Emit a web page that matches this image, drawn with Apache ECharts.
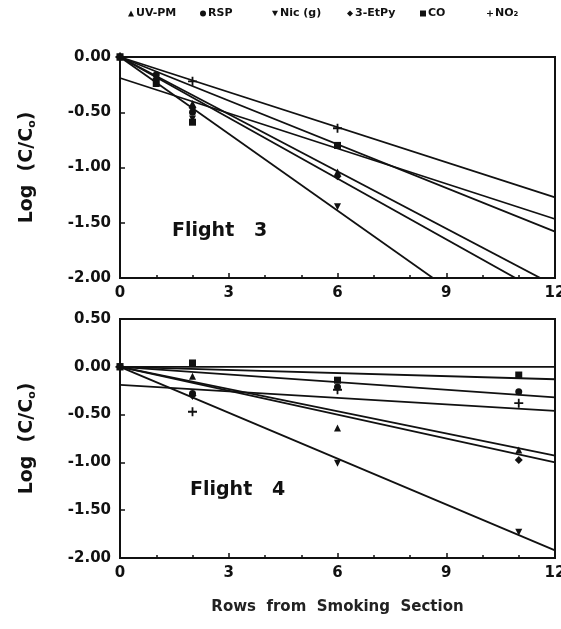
<!DOCTYPE html>
<html>
<head>
<meta charset="utf-8">
<script src="https://cdn.jsdelivr.net/npm/echarts@6/dist/echarts.min.js"></script>
<style>
  html, body { margin: 0; padding: 0; background: #fff; }
  #chart { width: 561px; height: 629px; }
</style>
</head>
<body>
<div id="chart"></div>
<script>
// species, in legend order
var speciesNames = ['UV-PM', 'RSP', 'Nic (g)', '3-EtPy', 'CO', 'NO\u2082'];
var xTickLabels = [0, 3, 6, 9, 12];

// Flight 3 measured points (rows from smoking section)
var flight3Rows = [0, 1, 2, 6];
var f3UvPm = [0, -0.18, -0.42, -1.04];
var f3Rsp = [0, -0.16, -0.50, -0.80];
var f3Nic = [0, -0.22, -0.56, -1.355];
var f3EtPy = [0, -0.20, -0.46, -1.08];
var f3Co = [0, -0.24, -0.59, -0.80];
var f3No2 = [0, null, -0.22, -0.645];

// Flight 4 measured points
var flight4Rows = [0, 2, 6, 11];
var f4UvPm = [0, -0.10, -0.64, -0.87];
var f4Rsp = [0, -0.28, -0.21, -0.26];
var f4Nic = [0, -0.31, -1.01, -1.73];
var f4EtPy = [0, -0.30, null, -0.975];
var f4Co = [0, 0.04, -0.14, -0.086];
var f4No2 = [0, -0.47, -0.24, -0.38];

// fitted lines: value at row 0 and at row 12 (same order as speciesNames)
var fitRows = [0, 12];
var f3FitStart = [0, 0, 0, 0, -0.19, 0];
var f3FitEnd = [-2.07, -1.58, -2.78, -2.20, -1.466, -1.27];
var f4FitStart = [0, 0, 0, 0, 0, -0.19];
var f4FitEnd = [-0.93, -0.32, -1.92, -1.00, -0.13, -0.46];

var plusPath = 'path://M4,0H6V4H10V6H6V10H4V6H0V4H4Z';
var downTri = 'path://M0,0L10,0L5,9Z';
var symbols = ['triangle', 'circle', downTri, 'diamond', 'rect', plusPath];
var symbolSizes = [7, 7, 7, 8, 7, 9];
var legendLeft = [128, 200, 272, 347, 420, 487];

var font = 'DejaVu Sans';
var ink = '#111';

function pairs(rows, vals) {
  return rows.map(function (r, i) { return [r, vals[i]]; });
}

var f3Sets = [f3UvPm, f3Rsp, f3Nic, f3EtPy, f3Co, f3No2];
var f4Sets = [f4UvPm, f4Rsp, f4Nic, f4EtPy, f4Co, f4No2];

function xAxisFor(idx, withName) {
  var ax = {
    type: 'value', gridIndex: idx, min: 0, max: 12, interval: 3,
    axisLine: { onZero: false, lineStyle: { color: ink, width: 2 } },
    axisTick: { inside: true, length: 5, lineStyle: { color: ink, width: 1.5 } },
    minorTick: { show: true, splitNumber: 3, length: 3, lineStyle: { color: ink, width: 1.5 } },
    splitLine: { show: false },
    axisLabel: { color: ink, fontFamily: font, fontWeight: 'bold', fontSize: 15, margin: 8 }
  };
  if (withName) {
    ax.name = 'Rows  from  Smoking  Section';
    ax.nameLocation = 'middle';
    ax.nameGap = 42;
    ax.nameTextStyle = { color: '#222', fontFamily: font, fontWeight: 'bold', fontSize: 15 };
  }
  return ax;
}

function yAxisFor(idx, max) {
  return {
    type: 'value', gridIndex: idx, min: -2, max: max, interval: 0.5,
    axisLine: { show: true, onZero: false, lineStyle: { color: ink, width: 2 } },
    axisTick: { show: true, inside: true, length: 5, lineStyle: { color: ink, width: 1.5 } },
    splitLine: { show: false },
    axisLabel: {
      color: ink, fontFamily: font, fontWeight: 'bold', fontSize: 15, margin: 9,
      formatter: function (v) { return v.toFixed(2); }
    },
    name: '{a|Log  (C/C}{s|o}{a|)}',
    nameLocation: 'middle',
    nameGap: 82,
    nameTextStyle: {
      rich: {
        a: { color: ink, fontFamily: font, fontWeight: 'bold', fontSize: 19 },
        s: { color: ink, fontFamily: font, fontWeight: 'bold', fontSize: 11, padding: [11, 0, 0, 0] }
      }
    }
  };
}

var series = [];
function addPanel(idx, rows, sets, fitStart, fitEnd) {
  speciesNames.forEach(function (name, i) {
    series.push({
      name: 'fit ' + idx + ' ' + name,
      type: 'line', xAxisIndex: idx, yAxisIndex: idx,
      data: [[fitRows[0], fitStart[i]], [fitRows[1], fitEnd[i]]],
      showSymbol: false, silent: true, clip: true,
      lineStyle: { color: ink, width: 1.8 }, z: 2
    });
  });
  speciesNames.forEach(function (name, i) {
    series.push({
      name: name,
      type: 'scatter', xAxisIndex: idx, yAxisIndex: idx,
      data: pairs(rows, sets[i]).filter(function (p) { return p[1] !== null; }),
      symbol: symbols[i],
      symbolSize: symbolSizes[i],
      itemStyle: { color: ink, opacity: 1 }, z: 3
    });
  });
}
addPanel(0, flight3Rows, f3Sets, f3FitStart, f3FitEnd);
addPanel(1, flight4Rows, f4Sets, f4FitStart, f4FitEnd);

// reference line at zero in the lower panel
series.push({
  name: 'zero', type: 'line', xAxisIndex: 1, yAxisIndex: 1,
  data: [[0, 0], [12, 0]], showSymbol: false, silent: true,
  lineStyle: { color: ink, width: 1.8 }, z: 2
});

var legends = speciesNames.map(function (name, i) {
  return {
    left: legendLeft[i], top: 8, padding: 0,
    itemWidth: 6, itemHeight: 6, selectedMode: false,
    data: [{ name: name, icon: symbols[i] }],
    itemStyle: { opacity: 1 },
    textStyle: { color: ink, fontFamily: font, fontWeight: 'bold', fontSize: 11, padding: [0, 0, 0, -3] }
  };
});

var chart = echarts.init(document.getElementById('chart'));
var option = {
  animation: false,
  backgroundColor: '#fff',
  legend: legends,
  title: [
    { text: 'Flight   3', left: 172, top: 222, padding: 0,
      textStyle: { color: ink, fontFamily: font, fontWeight: 'bold', fontSize: 19 } },
    { text: 'Flight   4', left: 190, top: 481, padding: 0,
      textStyle: { color: ink, fontFamily: font, fontWeight: 'bold', fontSize: 19 } }
  ],
  grid: [
    { left: 120, top: 57, width: 435, height: 221, show: true, borderColor: ink, borderWidth: 2,
      outerBoundsMode: 'none', containLabel: false },
    { left: 120, top: 319, width: 435, height: 239, show: true, borderColor: ink, borderWidth: 2,
      outerBoundsMode: 'none', containLabel: false }
  ],
  xAxis: [xAxisFor(0, false), xAxisFor(1, true)],
  yAxis: [yAxisFor(0, 0), yAxisFor(1, 0.5)],
  series: series
};
chart.setOption(option);
</script>
</body>
</html>
